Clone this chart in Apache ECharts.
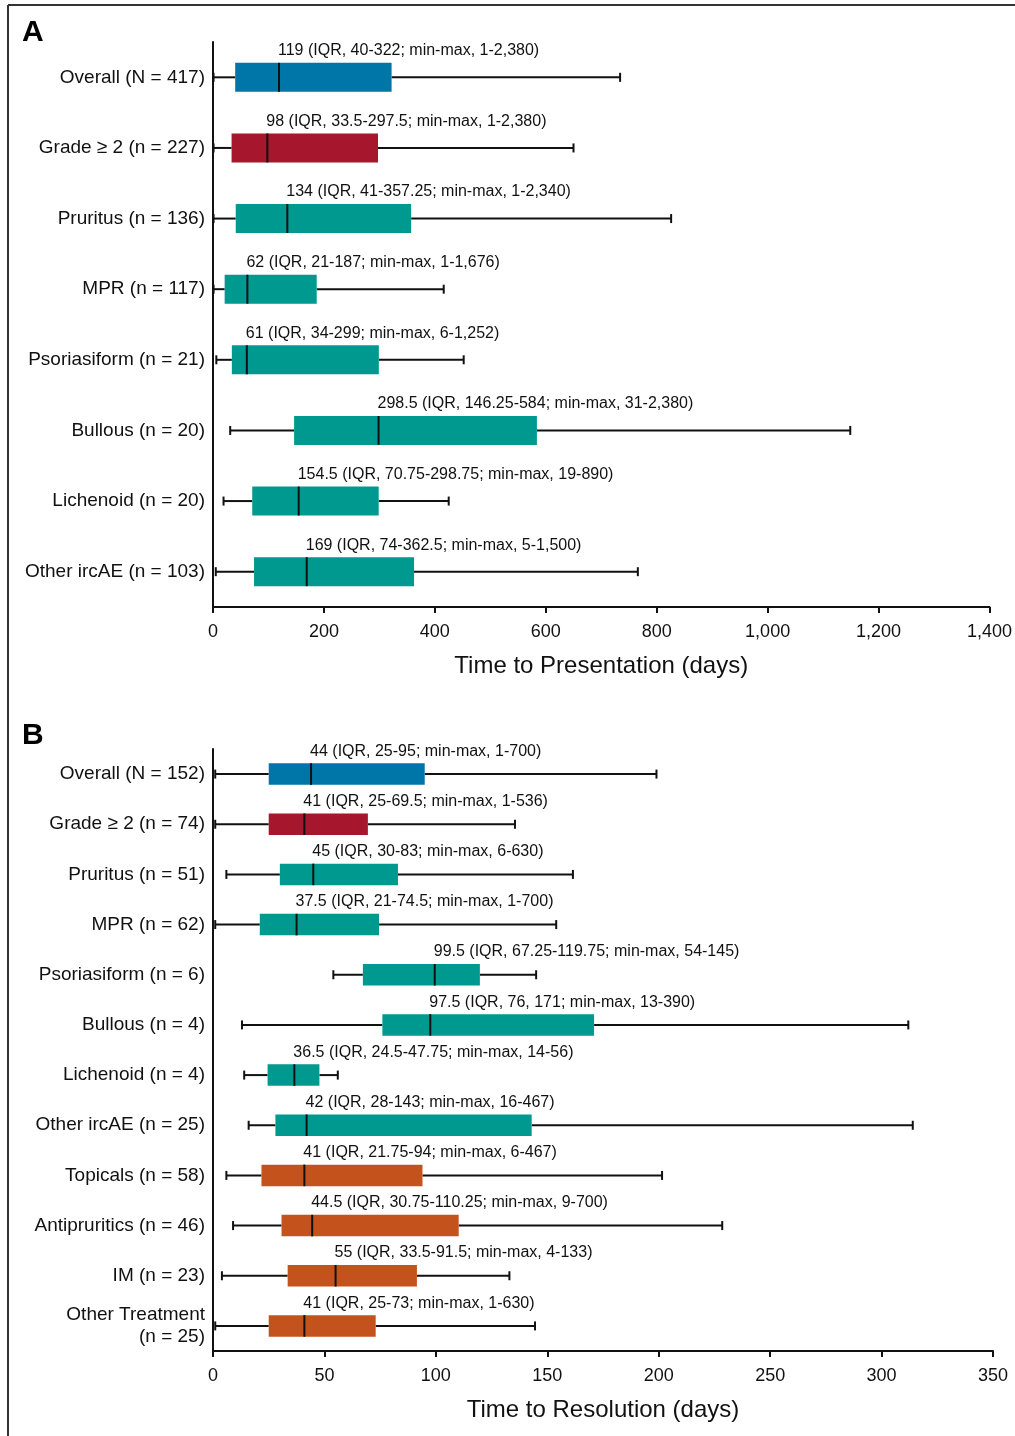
<!DOCTYPE html>
<html>
<head>
<meta charset="utf-8">
<script src="https://cdn.jsdelivr.net/npm/echarts@6/dist/echarts.min.js"></script>
<style>
html,body{margin:0;padding:0;background:#fff;}
#chart{width:1015px;height:1436px;}
</style>
</head>
<body>
<div id="chart"></div>
<script>
// ---------- Panel A: Time to Presentation ----------
const categoriesA = ['Overall (N = 417)', 'Grade \u2265 2 (n = 227)', 'Pruritus (n = 136)', 'MPR (n = 117)',
  'Psoriasiform (n = 21)', 'Bullous (n = 20)', 'Lichenoid (n = 20)', 'Other ircAE (n = 103)'];
const groupA = ['overall', 'grade', 'subtype', 'subtype', 'subtype', 'subtype', 'subtype', 'subtype'];
const whiskerLowA = [1, 1, 1, 1, 6, 31, 19, 5];
const q1A = [40, 33.5, 41, 21, 34, 146.25, 70.75, 74];
const medianA = [119, 98, 134, 62, 61, 298.5, 154.5, 169];
const q3A = [322, 297.5, 357.25, 187, 299, 584, 298.75, 362.5];
const whiskerHighA = [734, 650, 826, 416, 452, 1149, 425, 766];
const labelsA = [
  '119 (IQR, 40-322; min-max, 1-2,380)',
  '98 (IQR, 33.5-297.5; min-max, 1-2,380)',
  '134 (IQR, 41-357.25; min-max, 1-2,340)',
  '62 (IQR, 21-187; min-max, 1-1,676)',
  '61 (IQR, 34-299; min-max, 6-1,252)',
  '298.5 (IQR, 146.25-584; min-max, 31-2,380)',
  '154.5 (IQR, 70.75-298.75; min-max, 19-890)',
  '169 (IQR, 74-362.5; min-max, 5-1,500)'
];
const ticksA = [0, 200, 400, 600, 800, 1000, 1200, 1400];

// ---------- Panel B: Time to Resolution ----------
const categoriesB = ['Overall (N = 152)', 'Grade \u2265 2 (n = 74)', 'Pruritus (n = 51)', 'MPR (n = 62)',
  'Psoriasiform (n = 6)', 'Bullous (n = 4)', 'Lichenoid (n = 4)', 'Other ircAE (n = 25)',
  'Topicals (n = 58)', 'Antipruritics (n = 46)', 'IM (n = 23)', 'Other Treatment\n(n = 25)'];
const groupB = ['overall', 'grade', 'subtype', 'subtype', 'subtype', 'subtype', 'subtype', 'subtype',
  'treatment', 'treatment', 'treatment', 'treatment'];
const whiskerLowB = [1, 1, 6, 1, 54, 13, 14, 16, 6, 9, 4, 1];
const q1B = [25, 25, 30, 21, 67.25, 76, 24.5, 28, 21.75, 30.75, 33.5, 25];
const medianB = [44, 41, 45, 37.5, 99.5, 97.5, 36.5, 42, 41, 44.5, 55, 41];
const q3B = [95, 69.5, 83, 74.5, 119.75, 171, 47.75, 143, 94, 110.25, 91.5, 73];
const whiskerHighB = [199, 135.5, 161.5, 154, 145, 312, 56, 314, 201.5, 228.5, 133, 144.5];
const labelsB = [
  '44 (IQR, 25-95; min-max, 1-700)',
  '41 (IQR, 25-69.5; min-max, 1-536)',
  '45 (IQR, 30-83; min-max, 6-630)',
  '37.5 (IQR, 21-74.5; min-max, 1-700)',
  '99.5 (IQR, 67.25-119.75; min-max, 54-145)',
  '97.5 (IQR, 76, 171; min-max, 13-390)',
  '36.5 (IQR, 24.5-47.75; min-max, 14-56)',
  '42 (IQR, 28-143; min-max, 16-467)',
  '41 (IQR, 21.75-94; min-max, 6-467)',
  '44.5 (IQR, 30.75-110.25; min-max, 9-700)',
  '55 (IQR, 33.5-91.5; min-max, 4-133)',
  '41 (IQR, 25-73; min-max, 1-630)'
];
const ticksB = [0, 50, 100, 150, 200, 250, 300, 350];

// ---------- styling ----------
const groupColors = { overall: '#0076a8', grade: '#a6162c', subtype: '#00998f', treatment: '#c4521c' };
const INK = '#111111';
const REG = '"Liberation Sans", Arial, Helvetica, sans-serif';

function buildData(cats, lo, q1, med, q3, hi, groups, labels) {
  return cats.map((c, i) => [i, lo[i], q1[i], med[i], q3[i], hi[i], groups[i], labels[i]]);
}

function makeRender(boxRatio, capH) {
  return function (params, api) {
    const i = api.value(0);
    const lo = api.coord([api.value(1), i]);
    const q1 = api.coord([api.value(2), i]);
    const md = api.coord([api.value(3), i]);
    const q3 = api.coord([api.value(4), i]);
    const hi = api.coord([api.value(5), i]);
    const band = api.size([0, 1])[1];
    const bh = band * boxRatio;
    const y = md[1];
    const color = groupColors[api.value(6)] || groupColors.subtype;
    const lineStyle = { stroke: INK, lineWidth: 2 };
    return {
      type: 'group',
      children: [
        { type: 'line', shape: { x1: lo[0], y1: y, x2: q1[0], y2: y }, style: lineStyle },
        { type: 'line', shape: { x1: q3[0], y1: y, x2: hi[0], y2: y }, style: lineStyle },
        { type: 'line', shape: { x1: lo[0], y1: y - capH / 2, x2: lo[0], y2: y + capH / 2 }, style: lineStyle },
        { type: 'line', shape: { x1: hi[0], y1: y - capH / 2, x2: hi[0], y2: y + capH / 2 }, style: lineStyle },
        { type: 'rect', shape: { x: q1[0], y: y - bh / 2, width: q3[0] - q1[0], height: bh }, style: { fill: color } },
        { type: 'line', shape: { x1: md[0], y1: y - bh / 2, x2: md[0], y2: y + bh / 2 }, style: lineStyle },
        {
          type: 'text',
          style: {
            text: api.value(7), x: md[0] - 1, y: y - bh / 2 - 4,
            align: 'left', verticalAlign: 'bottom',
            fontSize: 16, fontFamily: REG, fill: INK
          }
        }
      ]
    };
  };
}

function xAxisCfg(gridIndex, ticks, name) {
  return {
    type: 'value', gridIndex: gridIndex,
    min: ticks[0], max: ticks[ticks.length - 1], interval: ticks[1] - ticks[0],
    name: name, nameLocation: 'middle', nameGap: 47,
    nameTextStyle: { fontFamily: REG, fontSize: 24, color: INK },
    axisLine: { show: true, onZero: false, lineStyle: { color: INK, width: 2 } },
    axisTick: { show: true, length: 6, lineStyle: { color: INK, width: 2 } },
    splitLine: { show: false },
    axisLabel: {
      fontFamily: REG, fontSize: 18, color: INK, margin: 16,
      formatter: v => v.toLocaleString('en-US')
    }
  };
}
function yAxisCfg(gridIndex, cats) {
  return {
    type: 'category', gridIndex: gridIndex, data: cats, inverse: true,
    axisLine: { show: true, lineStyle: { color: INK, width: 2 } },
    axisTick: { show: false },
    splitLine: { show: false },
    axisLabel: { fontFamily: REG, fontSize: 19, color: INK, margin: 8, lineHeight: 22, align: 'right' }
  };
}

const chart = echarts.init(document.getElementById('chart'), null, { renderer: 'canvas' });
chart.setOption({
  animation: false,
  backgroundColor: '#ffffff',
  grid: [
    { left: 213, right: 22, top: 42, height: 565 },
    { left: 213, right: 22, top: 749, height: 602 }
  ],
  xAxis: [
    xAxisCfg(0, ticksA, 'Time to Presentation (days)'),
    xAxisCfg(1, ticksB, 'Time to Resolution (days)')
  ],
  yAxis: [yAxisCfg(0, categoriesA), yAxisCfg(1, categoriesB)],
  graphic: [
    { type: 'line', shape: { x1: 8, y1: 5, x2: 1015, y2: 5 }, style: { stroke: '#333', lineWidth: 2 } },
    { type: 'line', shape: { x1: 8, y1: 5, x2: 8, y2: 1436 }, style: { stroke: '#333', lineWidth: 2 } },
    { type: 'text', left: 22, top: 18, style: { text: 'A', fontSize: 30, fontWeight: 'bold', fontFamily: REG, fill: '#000' } },
    { type: 'text', left: 22, top: 721, style: { text: 'B', fontSize: 30, fontWeight: 'bold', fontFamily: REG, fill: '#000' } }
  ],
  series: [
    {
      type: 'custom', xAxisIndex: 0, yAxisIndex: 0,
      renderItem: makeRender(0.41, 9),
      encode: { x: [1, 2, 3, 4, 5], y: 0 },
      data: buildData(categoriesA, whiskerLowA, q1A, medianA, q3A, whiskerHighA, groupA, labelsA),
      clip: false, z: 5
    },
    {
      type: 'custom', xAxisIndex: 1, yAxisIndex: 1,
      renderItem: makeRender(0.43, 9),
      encode: { x: [1, 2, 3, 4, 5], y: 0 },
      data: buildData(categoriesB, whiskerLowB, q1B, medianB, q3B, whiskerHighB, groupB, labelsB),
      clip: false, z: 5
    }
  ]
});
</script>
</body>
</html>
